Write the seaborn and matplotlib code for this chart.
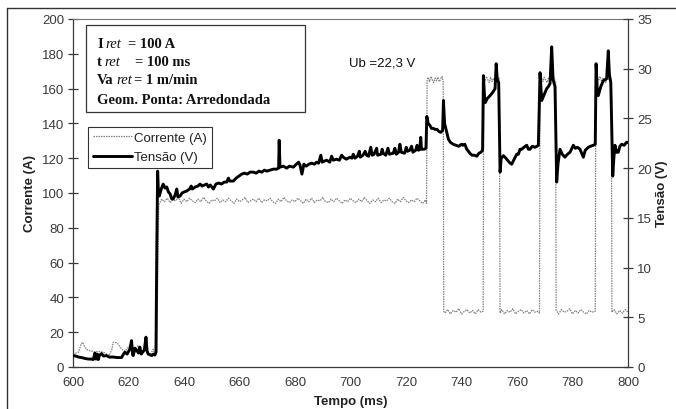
import matplotlib
matplotlib.use('Agg')
import matplotlib.pyplot as plt
import seaborn as sns
from matplotlib.lines import Line2D
from matplotlib.patches import Rectangle

# ---------------- data ----------------
# Corrente (A) - time (ms)
t_cur = [600.0, 601.0, 602.0, 603.0, 603.5, 604.3, 605.0, 606.0, 607.0, 608.0, 609.0, 610.0,
         611.0, 612.0, 613.0, 614.0, 614.5, 615.5, 616.3, 617.5, 618.7, 619.5, 620.5, 621.2,
         621.7, 622.5, 623.5, 624.2, 624.8, 625.9, 626.8, 627.7, 628.3, 628.9, 629.6, 630.2,
         630.6, 630.9,
         631, 632, 633, 634, 635, 636, 637, 638, 639, 640, 641, 642, 643, 644, 645, 646, 647,
         648, 649, 650, 651, 652, 653, 654, 655, 656, 657, 658, 659, 660, 661, 662, 663, 664,
         665, 666, 667, 668, 669, 670, 671, 672, 673, 674, 675, 676, 677, 678, 679, 680, 681,
         682, 683, 684, 685, 686, 687, 688, 689, 690, 691, 692, 693, 694, 695, 696, 697, 698,
         699, 700, 701, 702, 703, 704, 705, 706, 707, 708, 709, 710, 711, 712, 713, 714, 715,
         716, 717, 718, 719, 720, 721, 722, 723, 724, 725, 726, 727, 727.4,
         727.6, 728.0, 728.5, 729.0, 729.5, 730.0, 730.5, 731.0, 731.5, 732.0, 732.5, 733.0, 733.4,
         733.6, 734, 735, 736, 737, 738, 739, 740, 741, 742, 743, 744, 745, 746, 747, 747.8,
         748.0, 748.5, 749.0, 749.5, 750.0, 750.5, 751.0, 751.5, 752.0, 752.5, 753.0, 753.6,
         753.9, 754.5, 755.5, 756.5, 757.5, 758.5, 759.5, 760.5, 761.5, 762.5, 763.5, 764.5,
         765.5, 766.5, 767.5, 768.1,
         768.3, 768.8, 769.3, 769.8, 770.3, 770.8, 771.3, 771.8, 772.3, 772.8, 773.3, 773.9,
         774.1, 775.0, 776.0, 777.0, 778.0, 779.0, 780.0, 781.0, 782.0, 783.0, 784.0, 785.0,
         786.0, 787.0, 788.2,
         788.4, 789.0, 789.5, 790.0, 790.5, 791.0, 791.5, 792.0, 792.5, 793.0, 793.5, 794.0,
         794.2, 795.0, 796.0, 797.0, 798.0, 799.0, 800.0]
i_cur = [7.5, 8.0, 8.5, 13.5, 14.2, 11.4, 10.0, 9.4, 9.0, 8.6, 9.0, 8.8,
         8.5, 7.5, 6.5, 10.0, 14.2, 14.0, 13.2, 10.3, 9.0, 10.5, 12.5, 8.0,
         6.5, 9.0, 12.5, 9.0, 7.5, 11.4, 8.5, 6.5, 8.5, 10.3, 7.0, 8.0,
         60.0, 93.0,
         93.5, 96.5, 95.0, 97.0, 94.5, 96.0, 95.5, 97.5, 94.0, 96.5, 95.0, 97.0, 95.5, 94.5, 96.5, 95.0, 97.5,
         95.5, 94.0, 96.0, 95.5, 97.0, 94.5, 96.0, 95.0, 97.0, 95.5, 94.0, 96.5, 95.0, 96.0, 97.5, 94.5, 95.5,
         96.5, 95.0, 97.0, 94.5, 96.0, 95.5, 97.0, 95.0, 94.0, 96.5, 95.0, 97.5, 95.5, 94.5, 96.0, 95.0, 97.0,
         95.5, 94.0, 96.5, 95.0, 97.0, 94.5, 96.0, 95.5, 97.5, 95.0, 94.5, 96.5, 95.0, 97.0, 95.5, 94.0, 96.0,
         95.0, 97.0, 95.5, 94.5, 96.5, 95.0, 97.5, 95.5, 94.0, 96.0, 95.0, 97.0, 94.5, 96.0, 95.5, 97.0, 95.0,
         94.0, 96.5, 95.0, 97.5, 95.5, 94.5, 96.0, 95.0, 97.0, 95.5, 94.0, 96.0, 94.0,
         165.0, 166.5, 164.0, 167.0, 165.0, 163.5, 166.0, 164.5, 166.5, 164.0, 165.5, 167.0, 164.0,
         32.0, 31.0, 33.0, 30.5, 32.5, 31.5, 33.5, 30.5, 32.0, 33.0, 31.0, 32.5, 30.5, 33.0, 31.5, 32.0,
         166.0, 164.5, 167.0, 165.0, 163.5, 166.5, 164.0, 166.0, 165.0, 167.5, 164.5, 166.0,
         31.0, 33.0, 30.5, 32.5, 31.5, 33.5, 30.5, 32.0, 33.0, 31.0, 32.5, 30.5, 33.0, 31.5, 32.0, 31.0,
         165.5, 167.0, 164.0, 166.5, 165.0, 163.5, 166.0, 164.5, 167.0, 165.0, 166.5, 164.0,
         32.5, 30.5, 33.0, 31.5, 32.0, 33.5, 30.5, 32.5, 31.0, 33.0, 31.5, 30.5, 32.5, 31.5, 32.0,
         164.5, 166.5, 165.0, 167.0, 164.0, 166.0, 165.5, 163.5, 166.5, 165.0, 167.0, 164.5,
         31.5, 33.0, 30.5, 32.5, 31.0, 33.0, 31.5]

# Tensão (V) - time (ms)
t_ten = [600.0, 601.0, 602.0, 603.0, 603.7, 604.5, 605.5, 606.5, 607.3, 607.9, 608.3, 608.8,
         609.1, 609.6, 610.3, 611.0, 612.1, 613.0, 614.5, 616.0, 617.5, 618.2, 618.7, 619.5,
         620.5, 621.1, 621.5, 621.7, 622.3, 623.0, 623.6, 624.1, 624.6, 625.1, 625.7, 626.3,
         626.7, 627.1, 628.4, 629.0, 629.5, 629.9, 630.2, 630.5, 630.8, 631.1, 631.8, 632.5,
         633.2, 633.8, 634.4, 635.0, 635.6, 636.1, 636.8, 637.4, 637.8, 638.6, 639.3, 640.0,
         641.0, 642.0, 642.6, 643.0, 644.0, 645.0, 645.8, 646.5, 647.3, 648.2, 648.8, 649.5,
         650.6, 651.5, 652.5, 653.5, 654.5, 655.4, 656.0, 656.5, 657.8, 658.8, 659.8, 660.8,
         661.8, 662.8, 663.8, 665.0, 666.0, 667.0, 668.0, 669.0, 669.8, 671.0, 672.2, 673.4,
         674.1, 674.3, 674.6, 675.8, 677.0, 678.0, 679.4, 680.5, 681.3, 681.8, 682.5, 683.2,
         684.0, 685.0, 686.0, 687.0, 687.8, 688.5, 689.3, 689.8, 690.5, 691.4, 692.5, 693.2,
         693.8, 695.0, 696.0, 696.8, 697.4, 698.5, 699.8, 700.5, 701.0, 701.6, 702.5, 703.2,
         703.5, 704.5, 705.3, 705.8, 706.5, 707.3, 707.8, 708.5, 709.4, 709.8, 711.0, 711.4,
         711.8, 712.7, 713.5, 714.0, 715.4, 716.0, 716.5, 717.3, 717.8, 718.3, 719.5, 720.1,
         720.5, 721.4, 722.0, 722.5, 723.5, 724.0, 724.5, 725.0, 725.3, 725.6, 726.5,
         727.2, 727.5, 728.0, 728.6, 729.2, 729.8, 730.5, 731.2, 731.8, 732.5, 733.2, 733.5,
         733.9, 734.5, 735.3, 736.0, 737.0, 738.0, 739.0, 739.5, 740.0, 740.5, 741.2, 741.9,
         742.5, 743.0, 743.8, 744.6, 745.5, 746.3, 747.0, 747.6, 747.9, 748.3, 748.6, 749.3,
         750.3, 751.2, 752.1, 752.5, 752.9, 753.4, 753.9, 754.3, 755.1, 756.0, 756.9, 757.5,
         758.1, 758.8, 759.9, 760.5, 761.1, 761.7, 762.5, 763.5, 764.1, 764.7, 765.5, 766.5,
         767.2, 767.7, 768.3, 768.9, 769.8, 770.7, 771.3, 771.9, 772.5, 773.0, 773.7, 774.3,
         774.8, 775.5, 776.3, 777.3, 778.2, 779.1, 780.3, 781.0, 781.8, 782.7, 783.3, 783.9,
         784.6, 785.7, 786.5, 787.5, 788.2, 788.5, 789.0, 789.3, 790.2, 791.1, 792.3, 792.9,
         793.3, 793.8, 794.5, 794.9, 795.3, 795.9, 796.5, 797.1, 797.7, 798.6, 799.5, 800.0]
v_ten = [1.15, 1.1, 1.0, 0.95, 0.9, 0.85, 0.8, 0.8, 0.75, 1.4, 0.8, 1.3,
         0.75, 1.2, 1.35, 1.1, 1.15, 1.0, 1.0, 0.95, 0.95, 1.3, 1.5, 1.3,
         1.8, 2.65, 1.2, 1.15, 1.9, 1.65, 1.4, 2.0, 1.3, 1.5, 1.7, 3.0,
         1.6, 1.3, 1.15, 1.3, 1.2, 1.5, 12.0, 19.7, 17.5, 17.2, 17.9, 18.4,
         18.0, 18.1, 17.6, 17.4, 16.9, 16.9, 17.3, 17.9, 17.1, 17.2, 17.5, 17.6,
         17.7, 17.9, 18.2, 17.9, 18.1, 18.2, 18.4, 18.2, 18.3, 18.4, 18.1, 18.3,
         17.9, 18.4, 18.5, 18.4, 18.6, 18.6, 19.0, 18.7, 18.7, 19.0, 19.2, 19.4,
         19.5, 19.4, 19.6, 19.6, 19.5, 19.7, 19.6, 19.8, 19.7, 19.8, 19.9, 19.9,
         20.0, 22.8, 20.1, 20.2, 20.0, 20.2, 20.1, 20.4, 20.6, 20.3, 19.4, 20.4,
         20.2, 20.4, 20.5, 20.4, 20.6, 20.5, 21.3, 20.6, 20.7, 20.8, 20.6, 21.2,
         20.8, 20.9, 20.8, 21.3, 21.1, 20.9, 21.1, 21.0, 21.4, 21.0, 21.2, 21.7,
         21.1, 21.3, 21.7, 21.3, 21.2, 22.1, 21.3, 21.4, 22.0, 21.3, 21.4, 21.9,
         21.5, 21.3, 22.0, 21.4, 21.5, 22.0, 21.4, 21.6, 22.4, 21.6, 21.5, 22.1,
         21.7, 21.8, 22.2, 21.6, 21.8, 22.3, 21.8, 21.9, 23.1, 21.9, 21.9,
         22.0, 25.2, 24.5, 24.3, 24.0, 24.0, 23.9, 23.9, 23.7, 23.6, 23.8, 26.8,
         24.5, 23.8, 22.9, 22.6, 22.4, 22.3, 22.2, 22.3, 22.4, 22.3, 22.4, 21.9,
         21.7, 21.5, 21.3, 21.3, 21.2, 21.5, 21.6, 21.8, 29.3, 27.2, 26.6, 27.0,
         27.3, 27.6, 28.0, 30.5, 28.9, 28.6, 19.6, 21.0, 21.25, 21.0, 20.7, 20.5,
         20.4, 20.8, 21.4, 21.4, 21.9, 21.9, 22.1, 22.3, 21.9, 21.9, 22.2, 22.1,
         22.2, 22.3, 29.6, 26.8, 27.4, 28.0, 28.2, 28.5, 32.2, 28.9, 28.2, 18.6,
         20.5, 21.9, 21.4, 21.1, 21.4, 21.6, 22.3, 22.0, 22.1, 21.9, 21.5, 21.1,
         21.8, 22.1, 22.2, 22.3, 22.4, 30.5, 27.5, 27.3, 28.2, 28.8, 29.0, 31.8,
         29.4, 28.6, 19.2, 21.0, 22.3, 21.6, 21.6, 22.2, 22.4, 22.3, 22.6, 22.6]

x_ticks = [600, 620, 640, 660, 680, 700, 720, 740, 760, 780, 800]
y_ticks_cur = [0, 20, 40, 60, 80, 100, 120, 140, 160, 180, 200]
y_ticks_ten = [0, 5, 10, 15, 20, 25, 30, 35]

# ---------------- figure ----------------
sns.set_style('white')
plt.rcParams['font.family'] = ['Liberation Sans', 'DejaVu Sans']

W, H = 676, 410
fig = plt.figure(figsize=(W / 100, H / 100), dpi=100)


def fx(x):
    return x / W


def fy(y):
    return 1 - y / H


ax = fig.add_axes([fx(73), fy(368), (628 - 73) / W, (368 - 20) / H])
ax2 = ax.twinx()

sns.lineplot(x=t_cur, y=i_cur, ax=ax, color='#808080', lw=0.9,
             linestyle=(0, (1.2, 0.8)), estimator=None, sort=False, legend=False)
sns.lineplot(x=t_ten, y=v_ten, ax=ax2, color='black', lw=2.1,
             estimator=None, sort=False, legend=False)

ax.set_xlim(600, 800)
ax.set_ylim(0, 200)
ax2.set_ylim(0, 35)
ax.set_xticks(x_ticks)
ax.set_yticks(y_ticks_cur)
ax2.set_yticks(y_ticks_ten)

spine_c = '#3a3a3a'
for s in ['left', 'bottom']:
    ax.spines[s].set_color(spine_c)
    ax.spines[s].set_linewidth(0.9)
ax.spines['top'].set_color('#777777')
ax.spines['top'].set_linewidth(0.8)
ax.spines['right'].set_visible(False)
for s in ['left', 'top', 'bottom']:
    ax2.spines[s].set_visible(False)
ax2.spines['right'].set_color(spine_c)
ax2.spines['right'].set_linewidth(0.9)

tick_c = '#3a3a3a'
ax.tick_params(axis='both', direction='inout', length=7, width=0.9, color=spine_c,
               labelcolor=tick_c, labelsize=9.5, pad=3)
ax2.tick_params(axis='y', direction='inout', length=7, width=0.9, color=spine_c,
                labelcolor=tick_c, labelsize=9.5, pad=3)

ax.set_xlabel('Tempo (ms)', fontweight='bold', fontsize=9.5, color='#222222')
ax.set_ylabel('Corrente (A)', fontweight='bold', fontsize=9.5, color='#222222')
ax2.set_ylabel('Tensão (V)', fontweight='bold', fontsize=9.5, color='#222222', rotation=90)
ax.xaxis.set_label_coords(0.5, -(402 - 368) / 348, transform=ax.transAxes)
ax.yaxis.set_label_coords((30 - 73) / 555, 0.5, transform=ax.transAxes)
ax2.yaxis.set_label_coords((662 - 73) / 555, 0.5, transform=ax2.transAxes)
ax.xaxis.label.set_va('center')
ax.yaxis.label.set_va('center')
ax2.yaxis.label.set_va('center')
ax.grid(False)
ax2.grid(False)

# legend
handles = [Line2D([], [], color='#808080', lw=0.9, linestyle=(0, (1.2, 0.8))),
           Line2D([], [], color='black', lw=2.1)]
leg = ax2.legend(handles, ['Corrente (A)', 'Tensão (V)'], loc='upper left',
                 bbox_to_anchor=(fx(88), fy(128)), bbox_transform=fig.transFigure,
                 frameon=True, fancybox=False, framealpha=1, edgecolor='#333333',
                 fontsize=9.5, handlelength=3.0, handletextpad=0.15, borderpad=0.35,
                 labelspacing=0.55, borderaxespad=0)
leg.get_frame().set_linewidth(0.8)
for t in leg.get_texts():
    t.set_color('#222222')

# outer frame
fig.add_artist(Line2D([fx(7), fx(7)], [0, fy(9)], transform=fig.transFigure,
                      color='#333333', lw=1.0))
fig.add_artist(Line2D([fx(7), 1], [fy(9), fy(9)], transform=fig.transFigure,
                      color='#333333', lw=1.0))

# parameter text box
fig.add_artist(Rectangle((fx(86), fy(113)), (305 - 86) / W, (113 - 26) / H,
                         transform=fig.transFigure, fill=True, facecolor='white',
                         edgecolor='#333333', lw=0.9, zorder=5))
serif = ['Liberation Serif', 'DejaVu Serif']
fs = 10.5
rows = [
    (44, [(97, 'I', 'bold', 'normal'), (105, 'ret', 'normal', 'italic'), (128, '= 100 A', 'bold', 'normal')]),
    (63, [(97, 't', 'bold', 'normal'), (104, 'ret', 'normal', 'italic'), (135, '= 100 ms', 'bold', 'normal')]),
    (81, [(97, 'Va', 'bold', 'normal'), (116, 'ret', 'normal', 'italic'), (134, '= 1 m/min', 'bold', 'normal')]),
    (100, [(97, 'Geom. Ponta: Arredondada', 'bold', 'normal')]),
]
for y, parts in rows:
    for x, s, w, st in parts:
        fig.text(fx(x), fy(y), s, family=serif, fontsize=fs, fontweight=w, fontstyle=st,
                 ha='left', va='center', color='#111111', zorder=6)

fig.text(fx(382), fy(63), 'Ub =22,3 V', fontsize=9.5, ha='center', va='center',
         color='#111111')

fig.savefig('out.png', dpi=100)
